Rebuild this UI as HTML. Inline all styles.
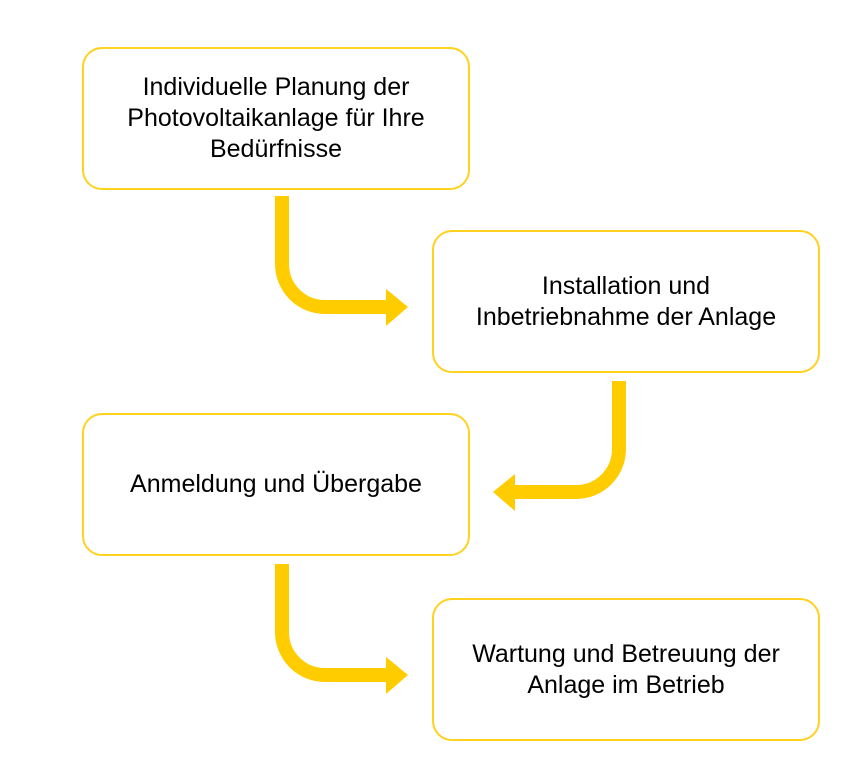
<!DOCTYPE html>
<html><head><meta charset="utf-8"><style>
body{margin:0;background:#fff;width:860px;height:774px;overflow:hidden;position:relative;font-family:"Liberation Sans",sans-serif;}
.b{position:absolute;box-sizing:border-box;width:388px;height:143px;border:2px solid #FFD21F;border-radius:20px;display:flex;align-items:center;justify-content:center;text-align:center;font-size:25px;line-height:31px;color:#000;letter-spacing:0}
svg{position:absolute;left:0;top:0}
</style></head><body>
<div class="b" style="left:82px;top:47px">Individuelle Planung der<br>Photovoltaikanlage für Ihre<br>Bedürfnisse</div>
<div class="b" style="left:432px;top:230px">Installation und<br>Inbetriebnahme der Anlage</div>
<div class="b" style="left:82px;top:413px">Anmeldung und Übergabe</div>
<div class="b" style="left:432px;top:598px">Wartung und Betreuung der<br>Anlage im Betrieb</div>
<svg width="860" height="774">
<g fill="none" stroke="#FFCC00" stroke-width="14">
<path d="M282 196 V264 A43 43 0 0 0 325 307 H388"/>
<path d="M619 381 V449 A43 43 0 0 1 576 492 H513"/>
<path d="M282 564 V632 A43 43 0 0 0 325 675 H388"/>
</g>
<g fill="#FFCC00">
<polygon points="386,289 408,307 386,326"/>
<polygon points="515,474 493,492 515,511"/>
<polygon points="386,657 408,675 386,694"/>
</g>
</svg>
</body></html>
